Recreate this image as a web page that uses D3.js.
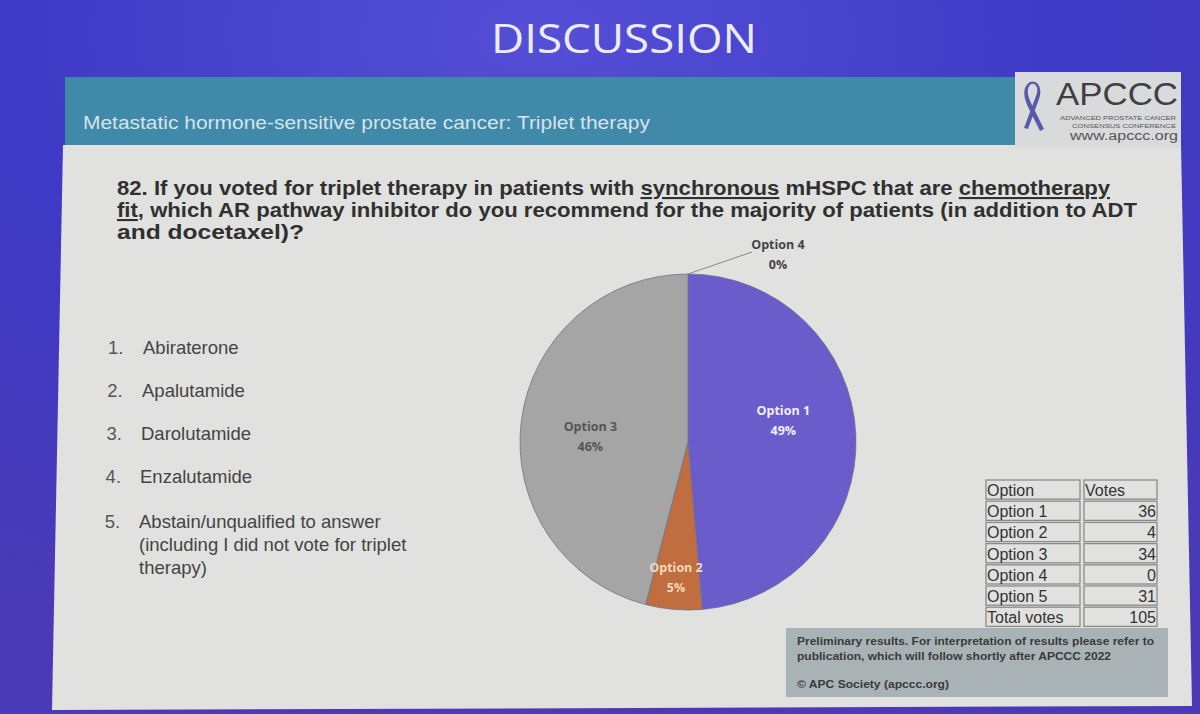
<!DOCTYPE html>
<html><head><meta charset="utf-8">
<script src="https://cdn.jsdelivr.net/npm/d3@7"></script>
<style>html,body{margin:0;padding:0;background:#3f3cc2;}svg{display:block;}</style>
</head><body>
<svg id="c" width="1200" height="714"></svg>
<script>
const options = ["Option 1", "Option 2", "Option 3", "Option 4", "Option 5"];
const votes = [36, 4, 34, 0, 31];
const totalVotes = 105;
const pieOptions = ["Option 1", "Option 2", "Option 3", "Option 4"];
const sliceColors = ["#6a5ccb", "#c06e3f", "#a6a5a6", "#e8a040"];
const labelColors = ["#f0eefa", "#f3d9b8", "#555555", "#444444"];
const answers = ["Abiraterone", "Apalutamide", "Darolutamide", "Enzalutamide", "Abstain/unqualified to answer"];
const answer5Extra = ["(including I did not vote for triplet", "therapy)"];

const svg = d3.select("#c");
const defs = svg.append("defs");
const bg = defs.append("radialGradient").attr("id","bg").attr("cx","0.45").attr("cy","0.05").attr("r","0.9");
bg.append("stop").attr("offset","0").attr("stop-color","#554fd6");
bg.append("stop").attr("offset","0.5").attr("stop-color","#3e3ac6");
bg.append("stop").attr("offset","1").attr("stop-color","#4a3ab6");
svg.append("rect").attr("width",1200).attr("height",714).attr("fill","url(#bg)");

// Title
svg.append("text").attr("x",624).attr("y",53).attr("text-anchor","middle")
  .attr("font-family","Open Sans, sans-serif").attr("font-weight",400).attr("font-size",40)
  .attr("fill","#ececf6").attr("textLength",266).attr("lengthAdjust","spacingAndGlyphs").text("DISCUSSION");

// content panel
svg.append("path").attr("d","M63,145 L1181,145 L1192,706 L52,710 Z").attr("fill","#e1e1df");
// header bar
svg.append("rect").attr("x",65).attr("y",77).attr("width",951).attr("height",68).attr("fill","#4189a8");
svg.append("text").attr("x",83).attr("y",129).attr("font-family","Liberation Sans, Arial, sans-serif")
  .attr("font-size",18).attr("fill","#d6e4ea").attr("textLength",567).attr("lengthAdjust","spacingAndGlyphs")
  .text("Metastatic hormone-sensitive prostate cancer: Triplet therapy");
// logo box
svg.append("rect").attr("x",1015).attr("y",72).attr("width",166).attr("height",76).attr("fill","#d9dadb");
// ribbon
svg.append("path").attr("d","M1024,128 L1036,96 C1040,87 1034,81 1030,85 C1026,89 1028,97 1032,105 L1044,129 L1040,131 L1029,109 C1023,97 1022,87 1030,82 C1038,79 1043,89 1039,99 L1028,129 Z")
  .attr("fill","#5a5aa8");
svg.append("text").attr("x",1056).attr("y",105).attr("font-family","Liberation Sans, Arial, sans-serif")
  .attr("font-size",32).attr("fill","#404040").attr("textLength",122).attr("lengthAdjust","spacingAndGlyphs").text("APCCC");
svg.append("text").attr("x",1176).attr("y",120).attr("text-anchor","end").attr("font-family","Liberation Sans, sans-serif")
  .attr("font-size",6).attr("fill","#555").attr("textLength",116).attr("lengthAdjust","spacingAndGlyphs").text("ADVANCED PROSTATE CANCER");
svg.append("text").attr("x",1176).attr("y",128).attr("text-anchor","end").attr("font-family","Liberation Sans, sans-serif")
  .attr("font-size",6).attr("fill","#555").attr("textLength",104).attr("lengthAdjust","spacingAndGlyphs").text("CONSENSUS CONFERENCE");
svg.append("text").attr("x",1178).attr("y",140).attr("text-anchor","end").attr("font-family","Liberation Sans, Arial, sans-serif")
  .attr("font-size",12).attr("fill","#555").attr("textLength",108).attr("lengthAdjust","spacingAndGlyphs").text("www.apccc.org");

// Question
const qf = "Liberation Sans, Arial, sans-serif";
const q1 = svg.append("text").attr("x",117).attr("y",195).attr("font-family",qf).attr("font-weight","bold")
  .attr("font-size",21).attr("fill","#303030").attr("textLength",993).attr("lengthAdjust","spacingAndGlyphs");
q1.append("tspan").text("82. If you voted for triplet therapy in patients with ");
q1.append("tspan").attr("text-decoration","underline").text("synchronous");
q1.append("tspan").text(" mHSPC that are ");
q1.append("tspan").attr("text-decoration","underline").text("chemotherapy");
const q2 = svg.append("text").attr("x",117).attr("y",217).attr("font-family",qf).attr("font-weight","bold")
  .attr("font-size",21).attr("fill","#303030").attr("textLength",1020).attr("lengthAdjust","spacingAndGlyphs");
q2.append("tspan").attr("text-decoration","underline").text("fit");
q2.append("tspan").text(", which AR pathway inhibitor do you recommend for the majority of patients (in addition to ADT");
svg.append("text").attr("x",117).attr("y",239).attr("font-family",qf).attr("font-weight","bold")
  .attr("font-size",21).attr("fill","#303030").attr("textLength",187).attr("lengthAdjust","spacingAndGlyphs").text("and docetaxel)?");

// Answer list
const lf = "Liberation Sans, Arial, sans-serif";
const listY = [354, 397, 440, 483, 528];
answers.forEach((a,i)=>{
  svg.append("text").attr("x",108 - i*0.8).attr("y",listY[i]).attr("font-family",lf).attr("font-size",18.5).attr("fill","#555").text((i+1)+".");
  svg.append("text").attr("x",143 - i*1).attr("y",listY[i]).attr("font-family",lf).attr("font-size",18.5).attr("fill","#444").text(a);
});
answer5Extra.forEach((t,i)=>{
  svg.append("text").attr("x",139).attr("y",551 + i*23).attr("font-family",lf).attr("font-size",18.5).attr("fill","#444").text(t);
});

// Pie
const cx = 688, cy = 442, R = 168;
const pieData = pieOptions.map((o,i)=>({name:o, value:votes[options.indexOf(o)], color:sliceColors[i], lc:labelColors[i]}));
const pieSum = d3.sum(pieData, d=>d.value);
const pie = d3.pie().sort(null).value(d=>d.value);
const arcs = pie(pieData);
const arc = d3.arc().innerRadius(0).outerRadius(R);
const g = svg.append("g").attr("transform",`translate(${cx},${cy})`);
g.selectAll("path.s").data(arcs.filter(d=>d.value>0)).join("path").attr("class","s")
  .attr("d",arc).attr("fill",d=>d.data.color).attr("stroke","#70708a").attr("stroke-width",0.8);
const fmt = v => Math.round(v/pieSum*100) + "%";
const labelArc = d3.arc().innerRadius(R*0.55).outerRadius(R*0.55);
const pf = "Open Sans, Noto Sans, sans-serif";
arcs.forEach((d,i)=>{
  let x, y, col = d.data.lc;
  if (d.value === 0) {
    const a0 = d.startAngle;
    const px = R*Math.sin(a0), py = -R*Math.cos(a0);
    g.append("line").attr("x1",px).attr("y1",py).attr("x2",px+64).attr("y2",py-22).attr("stroke","#888").attr("stroke-width",1);
    x = 90; y = -193;
  } else {
    const c = labelArc.centroid(d);
    x = c[0]; y = c[1];
    if (d.index === 1) { x = -12; y = 130; }
    if (d.index === 0) { x = c[0]+3; y = c[1]-23; }
    if (d.index === 2) { x = c[0]-6; y = c[1]+1; }
  }
  g.append("text").attr("x",x).attr("y",y).attr("text-anchor","middle").attr("font-family",pf).attr("font-weight","bold")
    .attr("font-size",12.5).attr("fill",col).text(d.data.name);
  g.append("text").attr("x",x).attr("y",y+20).attr("text-anchor","middle").attr("font-family",pf).attr("font-weight","bold")
    .attr("font-size",12.5).attr("fill",col).text(fmt(d.value));
});

// Table
const tx0 = 985, tx1 = 1082, tx2 = 1158, ty0 = 479, rh = 21.2;
const rows = [["Option","Votes"]].concat(options.map((o,i)=>[o, votes[i]])).concat([["Total votes", totalVotes]]);
const tg = svg.append("g");
rows.forEach((r,i)=>{
  const y = ty0 + i*rh;
  tg.append("rect").attr("x",tx0+1).attr("y",y+1).attr("width",tx1-tx0-3).attr("height",rh-2).attr("fill","none").attr("stroke","#8a8a8a").attr("stroke-width",1.3);
  tg.append("rect").attr("x",tx1+2).attr("y",y+1).attr("width",tx2-tx1-3).attr("height",rh-2).attr("fill","none").attr("stroke","#8a8a8a").attr("stroke-width",1.3);
  tg.append("text").attr("x",tx0+2).attr("y",y+17).attr("font-family",lf).attr("font-size",16).attr("fill","#333").text(r[0]);
  tg.append("text").attr("x", i===0 ? tx1+3 : tx2-2).attr("y",y+17).attr("text-anchor", i===0?"start":"end")
    .attr("font-family",lf).attr("font-size",16).attr("fill","#333").text(r[1]);
});

// Note box
svg.append("rect").attr("x",786).attr("y",628).attr("width",382).attr("height",69).attr("fill","#a9b3b6");
const nf = "Liberation Sans, Arial, sans-serif";
svg.append("text").attr("x",797).attr("y",645).attr("font-family",nf).attr("font-weight","bold").attr("font-size",10.5).attr("fill","#3a3a3a").attr("textLength",357).attr("lengthAdjust","spacingAndGlyphs").text("Preliminary results. For interpretation of results please refer to");
svg.append("text").attr("x",797).attr("y",660).attr("font-family",nf).attr("font-weight","bold").attr("font-size",10.5).attr("fill","#3a3a3a").attr("textLength",314).attr("lengthAdjust","spacingAndGlyphs").text("publication, which will follow shortly after APCCC 2022");
svg.append("text").attr("x",797).attr("y",688).attr("font-family",nf).attr("font-weight","bold").attr("font-size",10.5).attr("fill","#3a3a3a").attr("textLength",152).attr("lengthAdjust","spacingAndGlyphs").text("© APC Society (apccc.org)");
</script>
</body></html>
